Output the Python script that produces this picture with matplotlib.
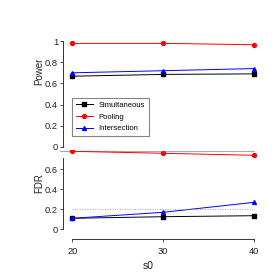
import numpy as np
import matplotlib
matplotlib.use('Agg')
import matplotlib.pyplot as plt

plt.rcParams['font.family'] = ['Liberation Sans', 'DejaVu Sans']

s0 = [20, 30, 40]
methods = ['Simultaneous', 'Pooling', 'Intersection']
colors = ['black', 'red', 'blue']
markers = ['s', 'o', '^']

power = {'Simultaneous': [0.668, 0.685, 0.69],
         'Pooling':      [0.978, 0.978, 0.965],
         'Intersection': [0.70, 0.72, 0.74]}
fdr = {'Simultaneous': [0.11, 0.126, 0.136],
       'Pooling':      [0.78, 0.76, 0.74],
       'Intersection': [0.11, 0.17, 0.27]}
fdr_target = 0.2
ref_line = 0.783

W = 280.0
fig = plt.figure(figsize=(2.8, 2.8), dpi=100)

# panel boxes in pixel units (left, top, right, bottom)
def px_axes(l, t, r, b):
    return fig.add_axes([l / W, 1 - b / W, (r - l) / W, (b - t) / W])

xlim = (18.98, 40.63)

ax1 = px_axes(63, 36, 260, 147)
ax2 = px_axes(63, 150, 260, 239)

ax1.set_xlim(xlim)
ax1.set_ylim(0, 1 + 5 / 105.5)
ax2.set_xlim(xlim)
ax2.set_ylim(-0.097, 0.793)

for ax in (ax1, ax2):
    for sp in ('top', 'right'):
        ax.spines[sp].set_visible(False)
    for sp in ('left', 'bottom'):
        ax.spines[sp].set_color('#333333')
        ax.spines[sp].set_linewidth(0.7)
    ax.tick_params(direction='out', length=2.4, width=0.6, color='#333333',
                   labelsize=6.7, pad=1.2, labelcolor='#222222')
    ax.patch.set_visible(False)

ax1.spines['bottom'].set_visible(False)
ax1.set_xticks([])
ax1.spines['left'].set_bounds(0, 1)
ax1.set_yticks([0, 0.2, 0.4, 0.6, 0.8, 1])
ax1.set_yticklabels(['0', '0.2', '0.4', '0.6', '0.8', '1'])

ax2.spines['left'].set_bounds(0, 0.71)
ax2.spines['bottom'].set_bounds(20, 40)
ax2.set_yticks([0, 0.2, 0.4, 0.6])
ax2.set_yticklabels(['0', '0.2', '0.4', '0.6'])
ax2.set_xticks(s0)
ax2.tick_params(axis='x', pad=3)

for m, c, mk in zip(methods, colors, markers):
    ax1.plot(s0, power[m], color=c, marker=mk, ms=2.8, lw=0.7, label=m)
    ax2.plot(s0, fdr[m], color=c, marker=mk, ms=2.8, lw=0.7)

ax2.plot([s0[0], s0[-1]], [fdr_target, fdr_target], color='#888888', lw=0.6,
         ls=(0, (1, 2)))
ax2.plot([18.6, s0[-1]], [ref_line, ref_line], color='#aaaaaa', lw=0.8,
         clip_on=False, zorder=1)

leg = ax1.legend(loc='upper left', bbox_to_anchor=(72 / W, 1 - 98 / W),
                 bbox_transform=fig.transFigure, fontsize=5.5, frameon=True,
                 fancybox=False, edgecolor='#666666', handlelength=2.2,
                 handletextpad=0.8, borderpad=0.5, labelspacing=0.55,
                 borderaxespad=0)
leg.get_frame().set_linewidth(0.8)

fig.text(39 / W, 1 - 71 / W, 'Power', rotation=90, ha='center', va='center',
         fontsize=7, color='#222222')
fig.text(39 / W, 1 - 183 / W, 'FDR', rotation=90, ha='center', va='center',
         fontsize=7, color='#222222')
fig.text(148 / W, 1 - 266 / W, 's0', ha='center', va='center', fontsize=7.5,
         color='#222222')

fig.savefig('out.png', dpi=100)
